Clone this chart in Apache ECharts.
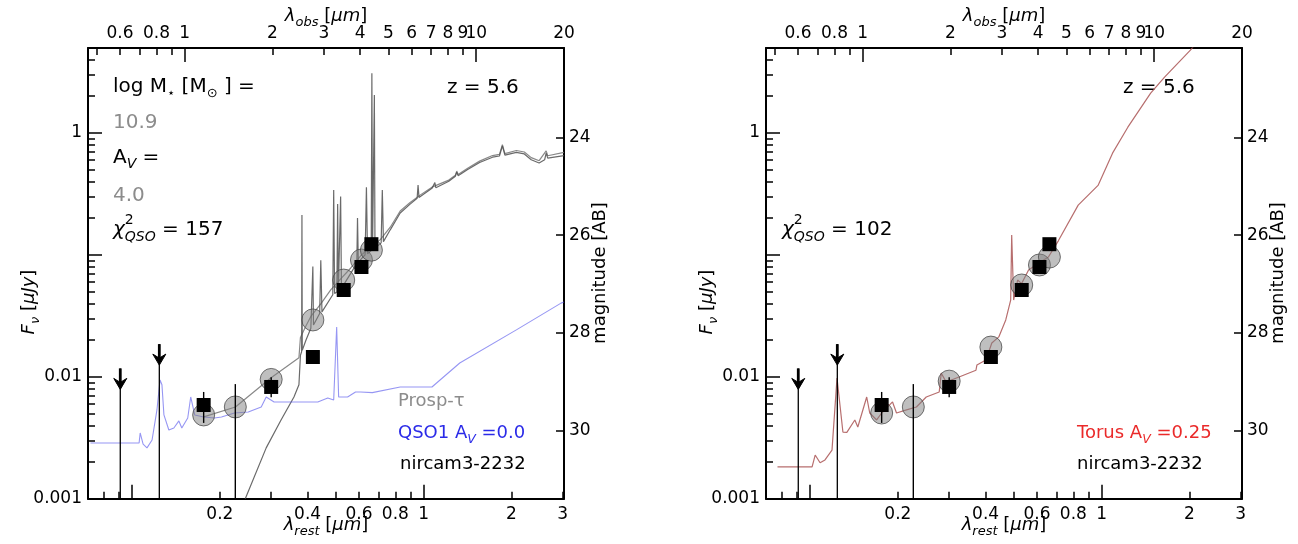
<!DOCTYPE html>
<html><head><meta charset="utf-8">
<script src="https://cdn.jsdelivr.net/npm/echarts@6/dist/echarts.min.js"></script>
<style>html,body{margin:0;padding:0;background:#fff}#c{width:1298px;height:544px}</style>
</head><body><div id="c"></div>
<script>
// ---------- axes / ticks ----------
const z = 5.6;
const obsMax = 20;
const restMin = 0.0706;
const restMax = obsMax / (1 + z);
const fluxMin = 0.001, fluxMax = 4.95;

const restMajorTicks = [0.1, 1];
const restMinorTicks = [0.08, 0.09, 0.2, 0.3, 0.4, 0.5, 0.6, 0.7, 0.8, 0.9, 2, 3];
const restTickLabels = [0.2, 0.4, 0.6, 0.8, 1, 2, 3];
const obsMajorTicks = [1, 10];
const obsMinorTicks = [0.5, 0.6, 0.7, 0.8, 0.9, 2, 3, 4, 5, 6, 7, 8, 9, 20];
const obsTickLabels = [0.6, 0.8, 1, 2, 3, 4, 5, 6, 7, 8, 9, 10, 20];
const fluxMajorTicks = [0.001, 0.01, 0.1, 1];
const fluxMinorTicks = [0.002,0.003,0.004,0.005,0.006,0.007,0.008,0.009,0.02,0.03,0.04,0.05,0.06,0.07,0.08,0.09,0.2,0.3,0.4,0.5,0.6,0.7,0.8,0.9,2,3,4];
const fluxTickLabels = [0.001, 0.01, 1];
const magTicks = [24, 26, 28, 30];

// ---------- photometry ----------
const photBands = ['F115W','F150W','F200W','F277W','F356W','F410M','F444W'];
const photLam   = [0.176, 0.226, 0.300, 0.417, 0.532, 0.612, 0.662];
const photFlux  = [0.00586, null, 0.00824, 0.0145, 0.0514, 0.0793, 0.122];
const photErrLo = [0.00418, 0.001, 0.0068, 0.0133, 0.0490, 0.0765, 0.118];
const photErrHi = [0.0075, 0.0087, 0.0099, 0.0158, 0.0540, 0.0822, 0.126];
const upperLimLam  = [0.0911, 0.124];
const upperLimFlux = [0.0117, 0.0185];
const modelPhotProsp = [0.00486, 0.00565, 0.0095, 0.0292, 0.062, 0.0905, 0.109];
const modelPhotTorus = [0.00504, 0.00565, 0.0092, 0.0175, 0.0565, 0.0824, 0.0957];

// ---------- spectra [lambda_rest (um), F_nu (uJy)] ----------
const qso1Spectrum = [
[0.0720,0.00286],[0.1057,0.00286],[0.1066,0.00346],[0.1091,0.0028],[0.1125,0.00261],[0.1171,0.00303],
[0.1217,0.00534],[0.1247,0.0094],[0.1266,0.0086],[0.1286,0.00486],[0.1337,0.00366],[0.1391,0.0038],
[0.1447,0.00434],[0.1481,0.0038],[0.1552,0.00459],[0.1589,0.00682],[0.1640,0.00486],[0.1760,0.00468],
[0.1918,0.00459],[0.2026,0.00468],[0.2244,0.00504],[0.2503,0.00514],[0.2773,0.00565],[0.2884,0.00682],
[0.3070,0.00621],[0.3591,0.00621],[0.4335,0.00621],[0.4690,0.00669],[0.4915,0.00644],[0.5032,0.0255],
[0.5111,0.00682],[0.5485,0.00682],[0.5840,0.0075],[0.6073,0.0075],[0.6671,0.0074],[0.8311,0.00824],
[1.068,0.00824],[1.330,0.01295],[2.080,0.0242],[2.960,0.0401],[3.03,0.041]
];
const galaxySpectrum = [
[0.2445,0.001],[0.2884,0.00261],[0.3243,0.00442],[0.3591,0.00682],[0.3735,0.0086],
[0.3780,0.0150],[0.3815,0.0160],[0.3825,0.2115],[0.3835,0.0165],
[0.3950,0.0200],[0.4104,0.0250],[0.4150,0.0258],[0.4169,0.080],[0.4190,0.0265],
[0.4400,0.0330],[0.4439,0.090],[0.4480,0.0340],
[0.4880,0.0470],[0.4915,0.340],[0.4950,0.0480],
[0.5040,0.0495],[0.5071,0.260],[0.5100,0.0505],
[0.5160,0.0515],[0.5192,0.300],[0.5225,0.0530],
[0.5616,0.070],
[0.5900,0.085],[0.5932,0.200],[0.5970,0.087],
[0.6300,0.100],[0.6365,0.357],[0.6420,0.102],
[0.6610,0.108],[0.6645,3.08],[0.6680,0.110],
[0.6750,0.111],[0.6777,2.04],[0.6810,0.113],
[0.7150,0.125],[0.7216,0.340],[0.7280,0.128],
[0.7683,0.160],[0.8311,0.220],[0.8989,0.260],
[0.9500,0.290],[0.9570,0.373],[0.9640,0.295],
[1.068,0.350],[1.085,0.352],[1.093,0.390],[1.101,0.354],
[1.220,0.400],[1.285,0.440],[1.299,0.475],[1.313,0.445],
[1.416,0.500],[1.556,0.570],[1.723,0.630],[1.820,0.645],
[1.863,0.780],[1.900,0.655],[2.080,0.690],[2.215,0.670],
[2.339,0.600],[2.490,0.565],[2.600,0.600],[2.632,0.680],[2.665,0.620],[3.030,0.650]
];
const totalSpectrum = [
[0.1760,0.00468],[0.2262,0.00565],[0.2998,0.0098],[0.3735,0.0143],[0.3780,0.0210],[0.3950,0.0262],
[0.4104,0.0312],[0.4439,0.0395],[0.4801,0.0515],[0.5233,0.0645],[0.5616,0.0775],[0.6073,0.0975],
[0.6567,0.116],[0.7104,0.133],[0.7683,0.168],[0.8311,0.228],[0.8989,0.268],[0.9721,0.308],
[1.068,0.358],[1.220,0.409],[1.285,0.449],[1.299,0.485],[1.313,0.455],[1.416,0.512],[1.556,0.585],
[1.723,0.650],[1.820,0.665],[1.863,0.800],[1.900,0.675],[2.080,0.715],[2.215,0.695],[2.339,0.625],
[2.490,0.590],[2.632,0.710],[2.665,0.648],[3.030,0.690]
];
const torusSpectrum = [
[0.0773,0.00182],[0.1016,0.00182],[0.1041,0.00228],[0.1082,0.00197],[0.1125,0.00208],[0.1189,0.0025],
[0.1237,0.00975],[0.1296,0.00352],[0.1337,0.0035],[0.1424,0.00442],[0.1458,0.00387],[0.1564,0.00682],
[0.1602,0.00504],[0.1692,0.00442],[0.1760,0.00504],[0.1918,0.00621],[0.1979,0.00504],[0.2141,0.00534],
[0.2316,0.00565],[0.2503,0.00682],[0.2773,0.0075],[0.2817,0.0107],[0.2929,0.00906],[0.3243,0.00995],
[0.3706,0.0113],[0.3735,0.01248],[0.4009,0.0137],[0.4201,0.0189],[0.4439,0.0212],[0.4690,0.0292],
[0.4876,0.0425],[0.4915,0.145],[0.4992,0.0425],[0.5071,0.0514],[0.5151,0.062],[0.5316,0.058],
[0.5616,0.075],[0.6073,0.0851],[0.6567,0.0957],[0.7104,0.13],[0.8311,0.255],[0.9721,0.37],
[1.090,0.68],[1.230,1.11],[1.473,2.11],[1.644,2.86],[2.016,4.76],[2.303,7.0],[3.03,15]
];

// ---------- helpers ----------
const FONT = 'DejaVu Sans';
const num = v => String(+(+v).toPrecision(6));
const magFromFlux = v => 23.9 - 2.5 * Math.log10(v);
const fluxFromMag = m => Math.pow(10, (23.9 - m) / 2.5);
const magTickFlux = magTicks.map(fluxFromMag);
const tickStyle = { color: '#000', width: 1.5 };
const lineStyleAx = { color: '#000', width: 2 };
const labelStyle = { fontSize: 17, color: '#000', fontFamily: FONT };

function xAxesFor(g) {
  return [
    { gridIndex: g, type: 'log', position: 'bottom', min: restMin, max: restMax,
      axisLine: { show: true, onZero: false, lineStyle: lineStyleAx },
      axisTick: { show: true, inside: true, length: 7, customValues: restMinorTicks, lineStyle: tickStyle },
      axisLabel: Object.assign({ show: true, customValues: restTickLabels, formatter: num, margin: 7 }, labelStyle),
      splitLine: { show: false }, minorTick: { show: false } },
    { gridIndex: g, type: 'log', position: 'bottom', min: restMin, max: restMax,
      axisLine: { show: false }, axisLabel: { show: false }, splitLine: { show: false },
      axisTick: { show: true, inside: true, length: 14, customValues: restMajorTicks, lineStyle: tickStyle } },
    { gridIndex: g, type: 'log', position: 'top', min: restMin * (1 + z), max: obsMax,
      axisLine: { show: true, onZero: false, lineStyle: lineStyleAx },
      axisTick: { show: true, inside: true, length: 7, customValues: obsMinorTicks, lineStyle: tickStyle },
      axisLabel: Object.assign({ show: true, customValues: obsTickLabels, formatter: num, margin: 6 }, labelStyle),
      splitLine: { show: false } },
    { gridIndex: g, type: 'log', position: 'top', min: restMin * (1 + z), max: obsMax,
      axisLine: { show: false }, axisLabel: { show: false }, splitLine: { show: false },
      axisTick: { show: true, inside: true, length: 14, customValues: obsMajorTicks, lineStyle: tickStyle } }
  ];
}
function yAxesFor(g) {
  return [
    { gridIndex: g, type: 'log', position: 'left', min: fluxMin, max: fluxMax,
      axisLine: { show: true, onZero: false, lineStyle: lineStyleAx },
      axisTick: { show: true, inside: true, length: 7, customValues: fluxMinorTicks, lineStyle: tickStyle },
      axisLabel: Object.assign({ show: true, customValues: fluxTickLabels, formatter: num, margin: 6 }, labelStyle),
      splitLine: { show: false } },
    { gridIndex: g, type: 'log', position: 'left', min: fluxMin, max: fluxMax,
      axisLine: { show: false }, axisLabel: { show: false }, splitLine: { show: false },
      axisTick: { show: true, inside: true, length: 14, customValues: fluxMajorTicks, lineStyle: tickStyle } },
    { gridIndex: g, type: 'log', position: 'right', min: fluxMin, max: fluxMax,
      axisLine: { show: true, onZero: false, lineStyle: lineStyleAx },
      axisTick: { show: true, inside: true, length: 8, customValues: magTickFlux, lineStyle: tickStyle },
      axisLabel: Object.assign({ show: true, customValues: magTickFlux, formatter: v => String(Math.round(magFromFlux(v))), margin: 5 }, labelStyle),
      splitLine: { show: false } }
  ];
}

function lineSeries(xi, yi, data, color, w, zz) {
  return { type: 'line', xAxisIndex: xi, yAxisIndex: yi, data: data, symbol: 'none', showSymbol: false,
    lineStyle: { color: color, width: w }, silent: true, z: zz || 2, animation: false };
}
function photSeries(xi, yi, modelPhot) {
  const sq = [], circ = [], err = [], ul = [];
  photLam.forEach((l, i) => {
    if (photFlux[i] != null) sq.push([l, photFlux[i]]);
    circ.push([l, modelPhot[i]]);
    err.push([l, photErrLo[i], photErrHi[i]]);
  });
  upperLimLam.forEach((l, i) => ul.push([l, upperLimFlux[i]]));
  return [
    { type: 'scatter', xAxisIndex: xi, yAxisIndex: yi, data: circ, symbol: 'circle', symbolSize: 22, silent: true, z: 3,
      itemStyle: { color: 'rgba(128,128,128,0.5)', borderColor: 'rgba(70,70,70,0.75)', borderWidth: 1, opacity: 1 } },
    { type: 'custom', xAxisIndex: xi, yAxisIndex: yi, data: err, silent: true, z: 4, encode: { x: 0, y: [1, 2] },
      renderItem: (p, api) => {
        const a = api.coord([api.value(0), api.value(1)]);
        const b = api.coord([api.value(0), api.value(2)]);
        return { type: 'line', shape: { x1: a[0], y1: a[1], x2: b[0], y2: b[1] }, style: { stroke: '#000', lineWidth: 1.4 } };
      } },
    { type: 'scatter', xAxisIndex: xi, yAxisIndex: yi, data: sq, symbol: 'rect', symbolSize: 14, silent: true, z: 5,
      itemStyle: { color: '#000', opacity: 1 } },
    { type: 'custom', xAxisIndex: xi, yAxisIndex: yi, data: ul, silent: true, z: 5, encode: { x: 0, y: 1 },
      renderItem: (p, api) => {
        const a = api.coord([api.value(0), api.value(1)]);
        const b = api.coord([api.value(0), fluxMin]);
        return { type: 'group', children: [
          { type: 'line', shape: { x1: a[0], y1: a[1], x2: b[0], y2: b[1] }, style: { stroke: '#000', lineWidth: 1.3 } },
          { type: 'line', shape: { x1: a[0], y1: a[1], x2: a[0], y2: a[1] + 16 }, style: { stroke: '#000', lineWidth: 2.8 } },
          { type: 'polygon', shape: { points: [[a[0] - 6.5, a[1] + 10], [a[0], a[1] + 21], [a[0] + 6.5, a[1] + 10], [a[0], a[1] + 14]] },
            style: { fill: '#000', stroke: '#000', lineWidth: 1 } }
        ] };
      } }
  ];
}

// mathtext-like text builder
const meas = document.createElement('canvas').getContext('2d');
function tw(t, s, it) { meas.font = (it ? 'italic ' : '') + s + 'px "' + FONT + '"'; return meas.measureText(t).width; }
function mathText(x, y, pieces, opt) {
  opt = opt || {};
  const kids = []; let cx = 0;
  pieces.forEach(p => {
    const t = p[0], s = p[1], it = !!p[2], dy = p[3] || 0, col = p[4], stay = p[5];
    kids.push({ type: 'text', x: cx, y: dy - 0.346 * s, silent: true,
      style: { text: t, fontSize: s, fontFamily: FONT, fontStyle: it ? 'italic' : 'normal',
        fill: col || opt.color || '#000', align: 'left', verticalAlign: 'middle' } });
    if (!stay) cx += tw(t, s, it);
  });
  if (opt.center) kids.forEach(k => { k.x -= cx / 2; });
  return { type: 'group', x: x, y: y, rotation: opt.rot || 0, silent: true, z: 10, children: kids };
}

const GRAY = '#8c8c8c', BLUE = '#2b2be8', RED = '#ea2a2a';
const texts = [
  // left panel
  mathText(113, 94, [['log M', 20], ['\u22c6', 13, false, 4], [' [M', 20], ['\u2299', 13, false, 4], [' ] =', 20]]),
  mathText(113, 130, [['10.9', 20, false, 0, GRAY]]),
  mathText(113, 164.5, [['A', 20], ['V', 14, true, 5], [' =', 20]]),
  mathText(113, 202.5, [['4.0', 20, false, 0, GRAY]]),
  mathText(113, 236.5, [['\u03c7', 20, true], ['2', 14, false, -11, null, true], ['QSO', 14, true, 6], [' = 157', 20]]),
  mathText(447, 95, [['z = 5.6', 20]]),
  mathText(398, 408, [['Prosp-\u03c4', 18, false, 0, GRAY]]),
  mathText(398, 439.5, [['QSO1 A', 18, false, 0, BLUE], ['V', 12.5, true, 4.5, BLUE], [' =0.0', 18, false, 0, BLUE]]),
  mathText(400, 471, [['nircam3-2232', 18]]),
  // right panel
  mathText(1123, 94.5, [['z = 5.6', 20]]),
  mathText(782, 236.5, [['\u03c7', 20, true], ['2', 14, false, -11, null, true], ['QSO', 14, true, 6], [' = 102', 20]]),
  mathText(1077, 439.5, [['Torus A', 18, false, 0, RED], ['V', 12.5, true, 4.5, RED], [' =0.25', 18, false, 0, RED]]),
  mathText(1077, 471, [['nircam3-2232', 18]])
];
[[326, 0], [1004, 1]].forEach(([cx, k]) => {
  const lx = k ? 714 : 36, rx = k ? 1285 : 607;
  texts.push(mathText(cx, 23, [['\u03bb', 18, true], ['obs', 13, true, 4], [' [', 18], ['\u03bcm', 18, true], [']', 18]], { center: true }));
  texts.push(mathText(cx, 532, [['\u03bb', 18, true], ['rest', 13, true, 4], [' [', 18], ['\u03bcm', 18, true], [']', 18]], { center: true }));
  texts.push(mathText(lx, 302, [['F', 18, true], ['\u03bd', 13, true, 4], [' [', 18], ['\u03bcJy', 18, true], [']', 18]], { center: true, rot: Math.PI / 2 }));
  texts.push(mathText(rx, 273, [['magnitude [AB]', 18]], { center: true, rot: Math.PI / 2 }));
});

const option = {
  animation: false,
  backgroundColor: '#fff',
  grid: [
    { left: 88, top: 48, width: 476, height: 450.7, containLabel: false, outerBoundsMode: 'none' },
    { left: 766, top: 48, width: 476, height: 450.7, containLabel: false, outerBoundsMode: 'none' }
  ],
  xAxis: xAxesFor(0).concat(xAxesFor(1)),
  yAxis: yAxesFor(0).concat(yAxesFor(1)),
  series: [
    lineSeries(0, 0, totalSpectrum, 'rgba(115,115,115,0.85)', 1.2, 2),
    lineSeries(0, 0, galaxySpectrum, 'rgba(80,80,80,0.85)', 1.2, 2),
    lineSeries(0, 0, qso1Spectrum, 'rgba(80,80,235,0.6)', 1.1, 2),
    ...photSeries(0, 0, modelPhotProsp),
    lineSeries(4, 3, torusSpectrum, 'rgba(170,85,85,0.85)', 1.2, 2),
    ...photSeries(4, 3, modelPhotTorus)
  ],
  graphic: { elements: texts }
};
const chart = echarts.init(document.getElementById('c'), null, { renderer: 'canvas', width: 1298, height: 544 });
chart.setOption(option);
</script>
</body></html>
